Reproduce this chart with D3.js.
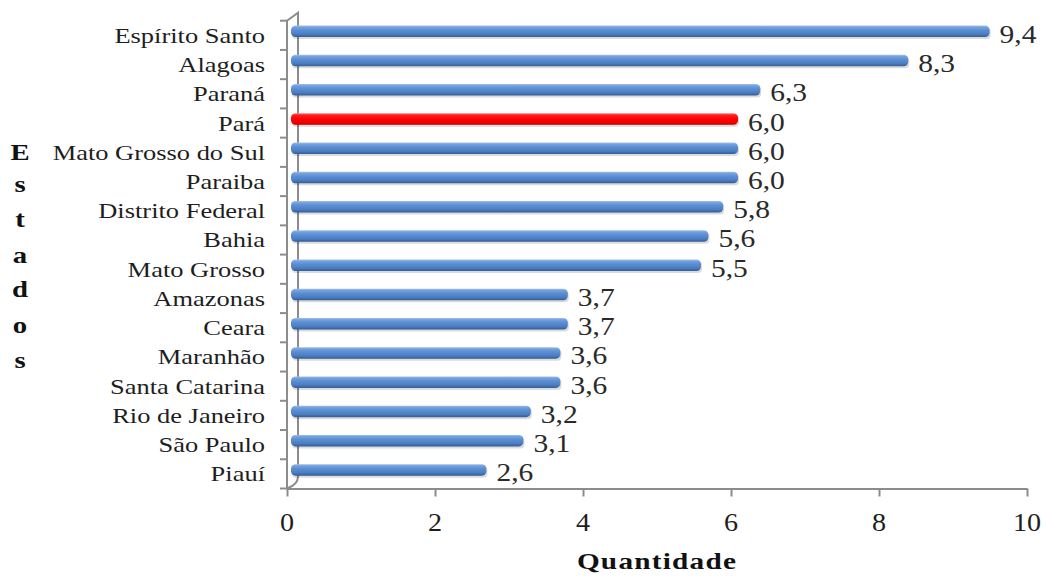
<!DOCTYPE html>
<html>
<head>
<meta charset="utf-8">
<script src="https://cdn.jsdelivr.net/npm/d3@7/dist/d3.min.js"></script>
<style>
  html, body { margin: 0; padding: 0; background: #fff; }
  svg { display: block; }
</style>
</head>
<body>
<svg id="chart" width="1046" height="576"></svg>
<script>
const categories = ["Espírito Santo","Alagoas","Paraná","Pará","Mato Grosso do Sul","Paraiba","Distrito Federal","Bahia","Mato Grosso","Amazonas","Ceara","Maranhão","Santa Catarina","Rio de Janeiro","São Paulo","Piauí"];
const values = [9.4, 8.3, 6.3, 6.0, 6.0, 6.0, 5.8, 5.6, 5.5, 3.7, 3.7, 3.6, 3.6, 3.2, 3.1, 2.6];
const highlighted = ["Pará"];
const xTicks = [0, 2, 4, 6, 8, 10];
const xTitle = "Quantidade";
const yTitle = "Estados";

const svg = d3.select("#chart");
const x = d3.scaleLinear().domain([0, 10]).range([287, 1027]);
const y = d3.scaleBand().domain(categories).range([20.7, 488.5]).padding(0);
const depthX = 7, depthY = -4, barH = 11.5;
const axisColor = "#8c8c8c";
const textColor = "#1e1e1e";
const serif = "'Liberation Serif', 'Times New Roman', serif";

const defs = svg.append("defs");
function grad(id, stops) {
  const g = defs.append("linearGradient").attr("id", id).attr("x1", 0).attr("y1", 0).attr("x2", 0).attr("y2", 1);
  stops.forEach(s => g.append("stop").attr("offset", s[0]).attr("stop-color", s[1]));
}
grad("gBlue", [["0%", "#a4c0e6"], ["15%", "#74a2dc"], ["40%", "#5a8ed4"], ["75%", "#4b7dc0"], ["100%", "#335c94"]]);
grad("gRed", [["0%", "#ff8080"], ["15%", "#ff2020"], ["50%", "#ff0000"], ["85%", "#ee0000"], ["100%", "#a80000"]]);

// back wall line and corner connectors
svg.append("path")
  .attr("d", `M${x(0)},${y.range()[0]} L${x(0) + 11},${y.range()[0] - 8} L${x(0) + 11},${y.range()[1] - 12} Q${x(0) + 11},${y.range()[1] - 4} ${x(0)},${y.range()[1]}`)
  .attr("fill", "none").attr("stroke", axisColor).attr("stroke-width", 2);

// front vertical axis
svg.append("line").attr("x1", x(0)).attr("x2", x(0)).attr("y1", y.range()[0]).attr("y2", y.range()[1])
  .attr("stroke", axisColor).attr("stroke-width", 2);
const bounds = categories.map(c => y(c)).concat([y.range()[1]]);
svg.selectAll(".ytick").data(bounds).join("line")
  .attr("x1", x(0) - 7).attr("x2", x(0)).attr("y1", d => d).attr("y2", d => d)
  .attr("stroke", axisColor).attr("stroke-width", 2);

// x axis
const xAxis = svg.append("g").attr("transform", `translate(0,${y.range()[1]})`)
  .call(d3.axisBottom(x).tickValues(xTicks).tickSize(8).tickSizeOuter(0).tickFormat(""));
xAxis.select(".domain").attr("stroke", axisColor).attr("stroke-width", 2);
xAxis.selectAll(".tick line").attr("stroke", axisColor).attr("stroke-width", 2);

svg.selectAll(".xlab").data(xTicks).join("text")
  .attr("transform", d => `translate(${x(d)},531) scale(1.15,1)`)
  .attr("text-anchor", "middle")
  .attr("font-family", serif)
  .attr("font-size", 24.5).attr("fill", textColor)
  .text(d => d);

// bars
const bars = svg.append("g");
categories.forEach((c, i) => {
  const cy = y(c) + y.bandwidth() / 2 + depthY;
  const x0 = x(0) + depthX - 3, x1 = x(values[i]) + depthX;
  bars.append("rect").attr("x", x0 + 1).attr("y", cy - barH / 2 + 2).attr("width", x1 - x0).attr("height", barH)
    .attr("rx", 4).attr("fill", "#000").attr("opacity", 0.14);
  bars.append("rect").attr("x", x0).attr("y", cy - barH / 2).attr("width", x1 - x0).attr("height", barH)
    .attr("rx", 4.5)
    .attr("fill", highlighted.includes(c) ? "url(#gRed)" : "url(#gBlue)");
});

// value labels
const fmt = v => d3.format(".1f")(v).replace(".", ",");
svg.selectAll(".vlab").data(categories).join("text")
  .attr("transform", (c, i) => `translate(${x(values[i]) + depthX + 10},${y(c) + y.bandwidth() / 2 + depthY + 11.5}) scale(1.18,1)`)
  .attr("font-family", serif)
  .attr("font-size", 25).attr("fill", "#2a2a2a")
  .text((c, i) => fmt(values[i]));

// category labels
svg.selectAll(".clab").data(categories).join("text")
  .attr("transform", c => `translate(265,${y(c) + y.bandwidth() / 2 + 7.5}) scale(1.26,1)`)
  .attr("text-anchor", "end")
  .attr("font-family", serif)
  .attr("font-size", 21).attr("fill", textColor)
  .text(c => c);

// x title
svg.append("text")
  .attr("transform", "translate(657,569) scale(1.22,1)")
  .attr("text-anchor", "middle")
  .attr("font-family", serif)
  .attr("font-size", 24).attr("font-weight", "bold").attr("letter-spacing", 1)
  .attr("fill", "#111").text(xTitle);

// y title, stacked letters
const yBase = [160, 192, 227, 263, 297, 333, 368];
svg.selectAll(".ytl").data(yTitle.split("")).join("text")
  .attr("transform", (d, i) => `translate(20,${yBase[i]}) scale(1.2,1)`)
  .attr("text-anchor", "middle")
  .attr("font-family", serif)
  .attr("font-size", 24).attr("font-weight", "bold").attr("fill", "#111")
  .text(d => d);
</script>
</body>
</html>
